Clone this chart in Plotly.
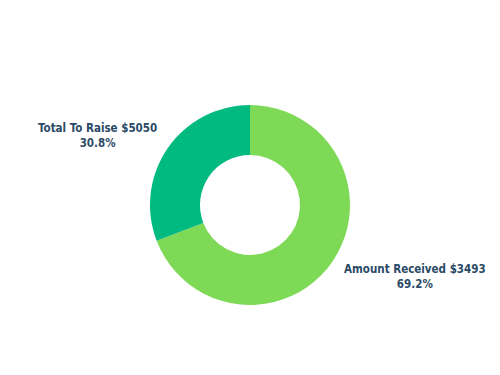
import plotly.graph_objects as go

labels = ["Amount Received", "Total To Raise"]
values = [3493, 1557]
display_amounts = [3493, 5050]
colors = ["#7ed957", "#00ba7f"]

total = sum(values)
label_texts = [f"<b>{l} ${a}<br>{v / total * 100:.1f}%</b>" for l, a, v in zip(labels, display_amounts, values)]

fig = go.Figure(go.Pie(
    labels=labels,
    values=values,
    hole=0.5,
    sort=False,
    direction="clockwise",
    rotation=0,
    marker=dict(colors=colors, line=dict(width=0)),
    textinfo="none",
    showlegend=False,
    domain=dict(x=[0, 1], y=[0.1867, 0.72]),
))

label_pos = [(0.83, 0.264), (0.194, 0.64)]
for txt, (x, y) in zip(label_texts, label_pos):
    fig.add_annotation(
        x=x, y=y, xref="paper", yref="paper", text=txt, showarrow=False,
        xanchor="center", yanchor="middle",
        font=dict(family="DejaVu Sans Condensed, sans-serif", size=11.5, color="#2b4a66"),
        align="center",
    )

fig.update_layout(
    width=500, height=375,
    margin=dict(l=0, r=0, t=0, b=0),
    paper_bgcolor="white", plot_bgcolor="white",
)

fig.write_html("out.html")
